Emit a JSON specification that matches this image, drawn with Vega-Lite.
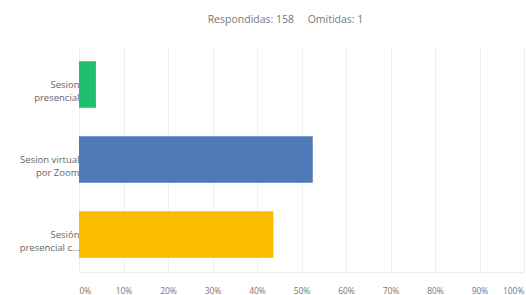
{
  "$schema": "https://vega.github.io/schema/vega-lite/v6.json",
  "width": 445,
  "height": 225,
  "autosize": {"type": "none"},
  "padding": {"left": 79, "top": 47, "right": 2, "bottom": 23},
  "background": "white",
  "title": {
    "text": "Respondidas: 158\u00a0\u00a0\u00a0\u00a0\u00a0Omitidas: 1",
    "fontSize": 10.5,
    "font": "Open Sans",
    "fontWeight": "normal",
    "color": "#777777",
    "anchor": "middle",
    "dx": -16,
    "offset": 22
  },
  "data": {
    "values": [
      {"opcion": "Sesion presencial", "pct": 3.8, "color": "#1fbf6f"},
      {"opcion": "Sesion virtual por Zoom", "pct": 52.53, "color": "#4e79b6"},
      {"opcion": "Sesión presencial c...", "pct": 43.67, "color": "#f9bc00"}
    ]
  },
  "mark": {"type": "bar"},
  "encoding": {
    "y": {
      "field": "opcion",
      "type": "nominal",
      "sort": null,
      "scale": {"paddingInner": 0.38, "paddingOuter": 0.19},
      "axis": {
        "title": null,
        "domain": false,
        "ticks": false,
        "labelPadding": 0,
        "labelFontSize": 9.5,
        "labelFont": "Open Sans",
        "labelColor": "#666666",
        "labelLineHeight": 13,
        "labelLimit": 80,
        "labelExpr": "datum.value == 'Sesion presencial' ? ['Sesion', 'presencial'] : datum.value == 'Sesion virtual por Zoom' ? ['Sesion virtual', 'por Zoom'] : ['Sesión', 'presencial c...']"
      }
    },
    "x": {
      "field": "pct",
      "type": "quantitative",
      "scale": {"domain": [0, 100]},
      "axis": {
        "title": null,
        "values": [0, 10, 20, 30, 40, 50, 60, 70, 80, 90, 100],
        "labelExpr": "datum.value + '%'",
        "labelFontSize": 8.5,
        "labelFont": "Open Sans",
        "labelColor": "#777777",
        "labelPadding": 14,
        "ticks": false,
        "domain": true,
        "domainColor": "#eeeeee",
        "gridColor": "#f0f0f0",
        "labelFlush": true
      }
    },
    "color": {"field": "color", "type": "nominal", "scale": null, "legend": null}
  },
  "config": {"view": {"stroke": null}}
}
